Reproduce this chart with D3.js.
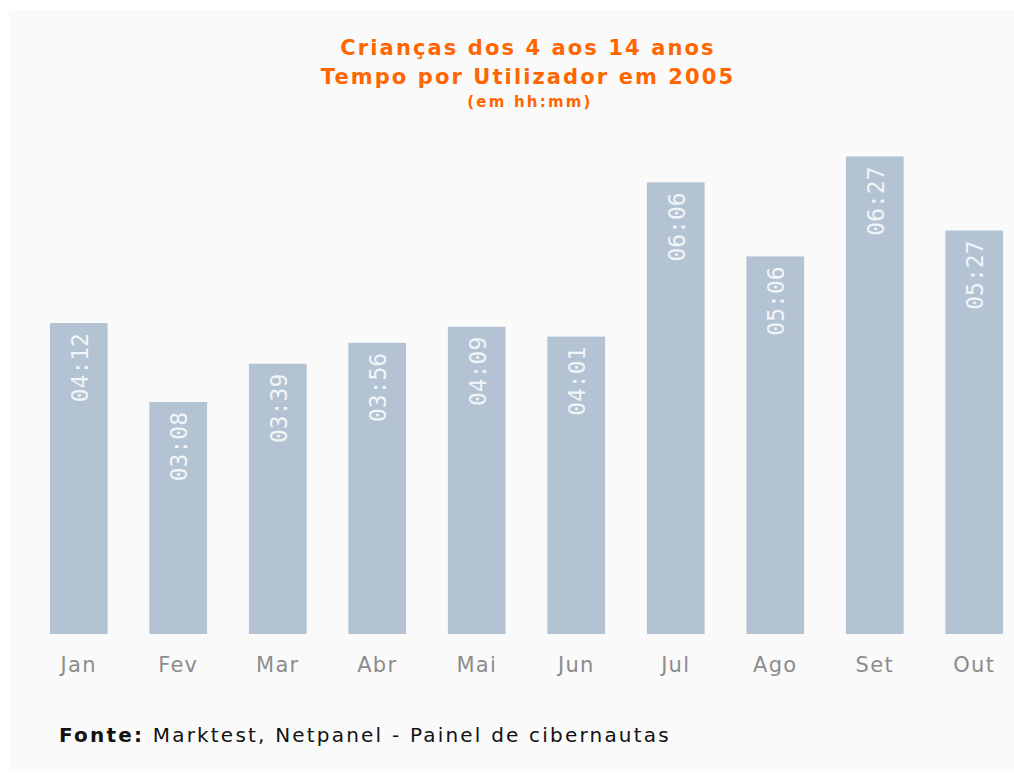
<!DOCTYPE html>
<html>
<head>
<meta charset="utf-8">
<script src="https://cdn.jsdelivr.net/npm/d3@7"></script>
<style>
  body { margin: 0; background: #fff; }
  svg { display: block; }
</style>
</head>
<body>
<div id="chart"></div>
<script>
// data
const months = ["Jan", "Fev", "Mar", "Abr", "Mai", "Jun", "Jul", "Ago", "Set", "Out"];
const minutes = [252, 188, 219, 236, 249, 241, 366, 306, 387, 327];
const labels = ["04:12", "03:08", "03:39", "03:56", "04:09", "04:01", "06:06", "05:06", "06:27", "05:27"];
const titleLines = ["Crianças dos 4 aos 14 anos", "Tempo por Utilizador em 2005"];
const subTitle = "(em hh:mm)";

const W = 1014, H = 773;
const baseY = 634;

const svg = d3.select("#chart").append("svg")
  .attr("width", W)
  .attr("height", H);

// panel
svg.append("rect")
  .attr("x", 9).attr("y", 10)
  .attr("width", W - 9).attr("height", 761)
  .attr("fill", "#fafafa");

// scales
const x = d3.scaleBand().domain(months).range([29, 1024]).paddingInner(0.42).paddingOuter(0.21);
const y = d3.scaleLinear().domain([0, 400]).range([baseY, baseY - 400 * 1.234]);

// title
const title = svg.append("g").attr("fill", "#ff6600")
  .attr("font-family", "'DejaVu Sans', Verdana, sans-serif")
  .attr("font-weight", "bold")
  .attr("text-anchor", "middle");
title.selectAll("text.t")
  .data(titleLines)
  .enter().append("text")
  .attr("class", "t")
  .attr("x", 528)
  .attr("y", (d, i) => 55 + i * 29)
  .attr("font-size", 21)
  .attr("letter-spacing", 2.1)
  .text(d => d);
title.append("text")
  .attr("x", 530).attr("y", 107)
  .attr("font-size", 15)
  .attr("letter-spacing", 2.2)
  .text(subTitle);

// bars
const bars = svg.append("g");
bars.selectAll("rect")
  .data(minutes)
  .enter().append("rect")
  .attr("x", (d, i) => x(months[i]))
  .attr("y", d => y(d))
  .attr("width", x.bandwidth())
  .attr("height", d => baseY - y(d))
  .attr("fill", "#b3c3d3");

// value labels (rotated)
bars.selectAll("text")
  .data(minutes)
  .enter().append("text")
  .attr("transform", (d, i) => "translate(" + (x(months[i]) + x.bandwidth() / 2 + 1) + "," + (y(d) + 10) + ") rotate(-90)")
  .attr("text-anchor", "end")
  .attr("dominant-baseline", "central")
  .attr("font-family", "'DejaVu Sans Mono', monospace")
  .attr("font-size", 23)
  .attr("fill", "#f2f5f8")
  .text((d, i) => labels[i]);

// x axis labels
const xAxis = d3.axisBottom(x).tickSize(0).tickPadding(23);
const gx = svg.append("g")
  .attr("transform", "translate(0," + baseY + ")")
  .call(xAxis);
gx.select(".domain").remove();
gx.selectAll("text")
  .attr("font-family", "'DejaVu Sans', Verdana, sans-serif")
  .attr("font-size", 21)
  .attr("letter-spacing", 1.3)
  .attr("fill", "#8c8c8c");

// source
const src = svg.append("text")
  .attr("x", 59).attr("y", 742)
  .attr("font-family", "'DejaVu Sans', Verdana, sans-serif")
  .attr("font-size", 20)
  .attr("letter-spacing", 2.2)
  .attr("fill", "#111");
src.append("tspan").attr("font-weight", "bold").text("Fonte:");
src.append("tspan").text(" Marktest, Netpanel - Painel de cibernautas");
</script>
</body>
</html>
